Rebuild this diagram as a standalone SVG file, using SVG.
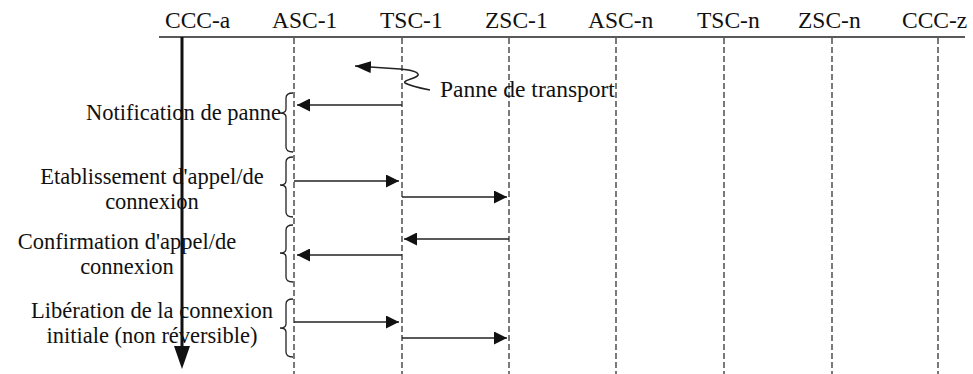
<svg xmlns="http://www.w3.org/2000/svg" width="973" height="374" viewBox="0 0 973 374">
<style>
text{font-family:"Liberation Serif","Times New Roman",serif;font-size:23.5px;fill:#111}
.lbl{font-size:22.5px}
.life{stroke:#333;stroke-width:1.3;stroke-dasharray:6 3;fill:none}
.msg{stroke:#222;stroke-width:1.5;fill:none}
.brace{stroke:#222;stroke-width:1.3;fill:none}
.c{text-anchor:middle}
.e{text-anchor:end}
</style>
<defs>
<marker id="ah" viewBox="0 0 13 13" refX="13" refY="6.5" markerWidth="13" markerHeight="13" markerUnits="userSpaceOnUse" orient="auto">
<path d="M0,0 L13,6.5 L0,13 Z" fill="#111"/>
</marker>
<marker id="ah2" viewBox="0 0 16 12" refX="16" refY="6" markerWidth="16" markerHeight="12" markerUnits="userSpaceOnUse" orient="auto">
<path d="M0,0 L16,6 L0,12 Z" fill="#111"/>
</marker>
</defs>
<g id="header">
<line x1="159" y1="37" x2="965" y2="37" stroke="#222" stroke-width="1.5"/>
</g>
<g id="ccc-a"><text x="165" y="28">CCC-a</text><line x1="182" y1="37" x2="182" y2="349" stroke="#111" stroke-width="3"/><polygon points="174,346 190,346 182,369" fill="#111"/></g>
<g id="asc-1"><text x="272" y="28">ASC-1</text><line class="life" x1="294" y1="38" x2="294" y2="374"/></g>
<g id="tsc-1"><text x="380" y="28">TSC-1</text><line class="life" x1="402" y1="38" x2="402" y2="374"/></g>
<g id="zsc-1"><text x="485" y="28">ZSC-1</text><line class="life" x1="509" y1="38" x2="509" y2="374"/></g>
<g id="asc-n"><text x="588" y="28">ASC-n</text><line class="life" x1="616" y1="38" x2="616" y2="374"/></g>
<g id="tsc-n"><text x="697" y="28">TSC-n</text><line class="life" x1="724" y1="38" x2="724" y2="374"/></g>
<g id="zsc-n"><text x="798" y="28">ZSC-n</text><line class="life" x1="832" y1="38" x2="832" y2="374"/></g>
<g id="ccc-z"><text x="902" y="28">CCC-z</text><line class="life" x1="938" y1="38" x2="938" y2="374"/></g>
<g id="failure">
<path class="msg" d="M430,90 C420,88 410,86 405,83 C402,80 420,78 418,74 C416,70 406,70 400,69 L355,66" marker-end="url(#ah2)"/>
<text x="440" y="97">Panne de transport</text>
</g>
<g id="labels">
<text class="e lbl" x="281" y="120">Notification de panne</text>
<text class="c lbl" x="152" y="184">Etablissement d'appel/de</text>
<text class="c lbl" x="152" y="209">connexion</text>
<text class="c lbl" x="127" y="249">Confirmation d'appel/de</text>
<text class="c lbl" x="127" y="274">connexion</text>
<text class="c lbl" x="152" y="318">Libération de la connexion</text>
<text class="c lbl" x="152" y="343">initiale (non réversible)</text>
</g>
<g id="braces">
<path class="brace" d="M293,93 Q286,93 286,98 L286,109 Q286,113 280,113 Q286,113 286,117 L286,147 Q286,152 293,152"/>
<path class="brace" d="M293,157 Q286,157 286,162 L286,181 Q286,185 280,185 Q286,185 286,189 L286,212 Q286,217 293,217"/>
<path class="brace" d="M293,225 Q286,225 286,230 L286,249 Q286,253 280,253 Q286,253 286,257 L286,277 Q286,282 293,282"/>
<path class="brace" d="M293,299 Q286,299 286,304 L286,324 Q286,328 280,328 Q286,328 286,332 L286,352 Q286,357 293,357"/>
</g>
<g id="connectors">
<line class="msg" x1="402" y1="105" x2="297" y2="105" marker-end="url(#ah)"/>
<line class="msg" x1="294" y1="181" x2="399" y2="181" marker-end="url(#ah)"/>
<line class="msg" x1="402" y1="197" x2="507" y2="197" marker-end="url(#ah)"/>
<line class="msg" x1="509" y1="239" x2="404" y2="239" marker-end="url(#ah)"/>
<line class="msg" x1="402" y1="255" x2="297" y2="255" marker-end="url(#ah)"/>
<line class="msg" x1="294" y1="322" x2="399" y2="322" marker-end="url(#ah)"/>
<line class="msg" x1="402" y1="338" x2="507" y2="338" marker-end="url(#ah)"/>
</g>
</svg>
